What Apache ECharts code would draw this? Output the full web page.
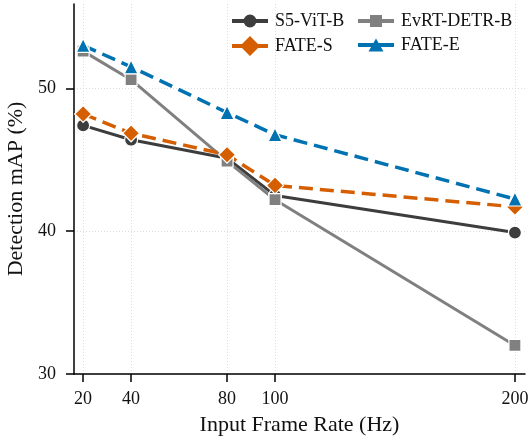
<!DOCTYPE html>
<html>
<head>
<meta charset="utf-8">
<script src="https://cdn.jsdelivr.net/npm/echarts@6/dist/echarts.min.js"></script>
<style>
  html, body { margin: 0; padding: 0; background: #fff; }
  #container { width: 530px; height: 438px; }
</style>
</head>
<body>
<div id="container"></div>
<script>
// frame rates (Hz) and mAP values
var frameRates = [20, 40, 80, 100, 200];
var s5vit = [47.4, 46.4, 45.1, 42.5, 39.9];
var evrt = [52.6, 50.6, 44.9, 42.2, 32.0];
var fateS = [48.2, 46.85, 45.35, 43.2, 41.7];
var fateE = [53.0, 51.5, 48.3, 46.75, 42.25];
var yTicks = [30, 40, 50];

var dom = document.getElementById('container');
var myChart = echarts.init(dom, null, { renderer: 'canvas' });

function pairs(vals) {
  return frameRates.map(function (x, i) { return [x, vals[i]]; });
}

var font = 'Liberation Serif';

// legend glyphs: thick line with the marker in the middle (box 36 x 20)
var bar = 'M0 8 H36 V12 H0 Z ';
var icons = {
  circle: 'path://' + bar + 'M11.5 10 A6.5 6.5 0 1 1 24.5 10 A6.5 6.5 0 1 1 11.5 10 Z',
  rect: 'path://' + bar + 'M12 4 H24 V16 H12 Z',
  diamond: 'path://' + bar + 'M8 10 L18 0 L28 10 L18 20 Z',
  triangle: 'path://' + bar + 'M10.5 16.5 L18 3.5 L25.5 16.5 Z'
};

function mkSeries(name, vals, color, symbol, size, dashed) {
  return {
    name: name,
    type: 'line',
    data: pairs(vals),
    symbol: symbol,
    symbolSize: size,
    showAllSymbol: true,
    lineStyle: { color: color, width: dashed ? 3.5 : 3, type: dashed ? [14, 7] : 'solid' },
    itemStyle: { color: color, borderColor: '#fff', borderWidth: 1.2 },
    emphasis: { disabled: true },
    animation: false
  };
}

var legendText = { fontFamily: font, fontSize: 18, color: '#111', padding: [0, 0, 0, 2] };

function mkLegend(left, names, syms) {
  return {
    orient: 'vertical', left: left, top: 7, itemGap: 6,
    itemWidth: 36, itemHeight: 20,
    textStyle: legendText,
    itemStyle: { borderWidth: 0 },
    data: names.map(function (n, i) { return { name: n, icon: icons[syms[i]] }; })
  };
}

var option = {
  backgroundColor: '#fff',
  animation: false,
  grid: { left: 74, right: 5, top: 4, bottom: 64, outerBoundsMode: 'none' },
  legend: [
    mkLegend(227, ['S5-ViT-B', 'FATE-S'], ['circle', 'diamond']),
    mkLegend(353, ['EvRT-DETR-B', 'FATE-E'], ['rect', 'triangle'])
  ],
  xAxis: {
    type: 'value',
    min: 16.2,
    max: 204.2,
    name: 'Input Frame Rate (Hz)',
    nameLocation: 'middle',
    nameGap: 40,
    nameTextStyle: { fontFamily: font, fontSize: 22, color: '#111' },
    axisLine: { show: true, lineStyle: { color: '#000', width: 1.5 } },
    axisTick: { show: true, length: 8, customValues: frameRates, lineStyle: { color: '#000', width: 1.5 } },
    axisLabel: { customValues: frameRates, fontFamily: font, fontSize: 18, color: '#111', margin: 16 },
    splitLine: { show: true, customValues: frameRates, lineStyle: { color: '#ddd', type: [1, 2], width: 1 } }
  },
  yAxis: {
    type: 'value',
    min: 30,
    max: 55.9,
    interval: 10,
    name: 'Detection mAP (%)',
    nameLocation: 'middle',
    nameGap: 36,
    nameTextStyle: { fontFamily: font, fontSize: 22, color: '#111' },
    axisLine: { show: true, lineStyle: { color: '#000', width: 1.5 } },
    axisTick: { show: true, length: 8, customValues: yTicks, lineStyle: { color: '#000', width: 1.5 } },
    axisLabel: { customValues: yTicks, fontFamily: font, fontSize: 18, color: '#111', margin: 18 },
    splitLine: { show: true, customValues: [40, 50], lineStyle: { color: '#ddd', type: [1, 2], width: 1 } }
  },
  series: [
    mkSeries('S5-ViT-B', s5vit, '#3d3d3d', 'circle', 13, false),
    mkSeries('EvRT-DETR-B', evrt, '#808080', 'rect', 12, false),
    mkSeries('FATE-S', fateS, '#d55e00', 'diamond', 17, true),
    mkSeries('FATE-E', fateE, '#0072b2', 'triangle', 14, true)
  ]
};

myChart.setOption(option);
window.addEventListener('resize', function () {
  myChart.resize();
});
</script>
</body>
</html>
